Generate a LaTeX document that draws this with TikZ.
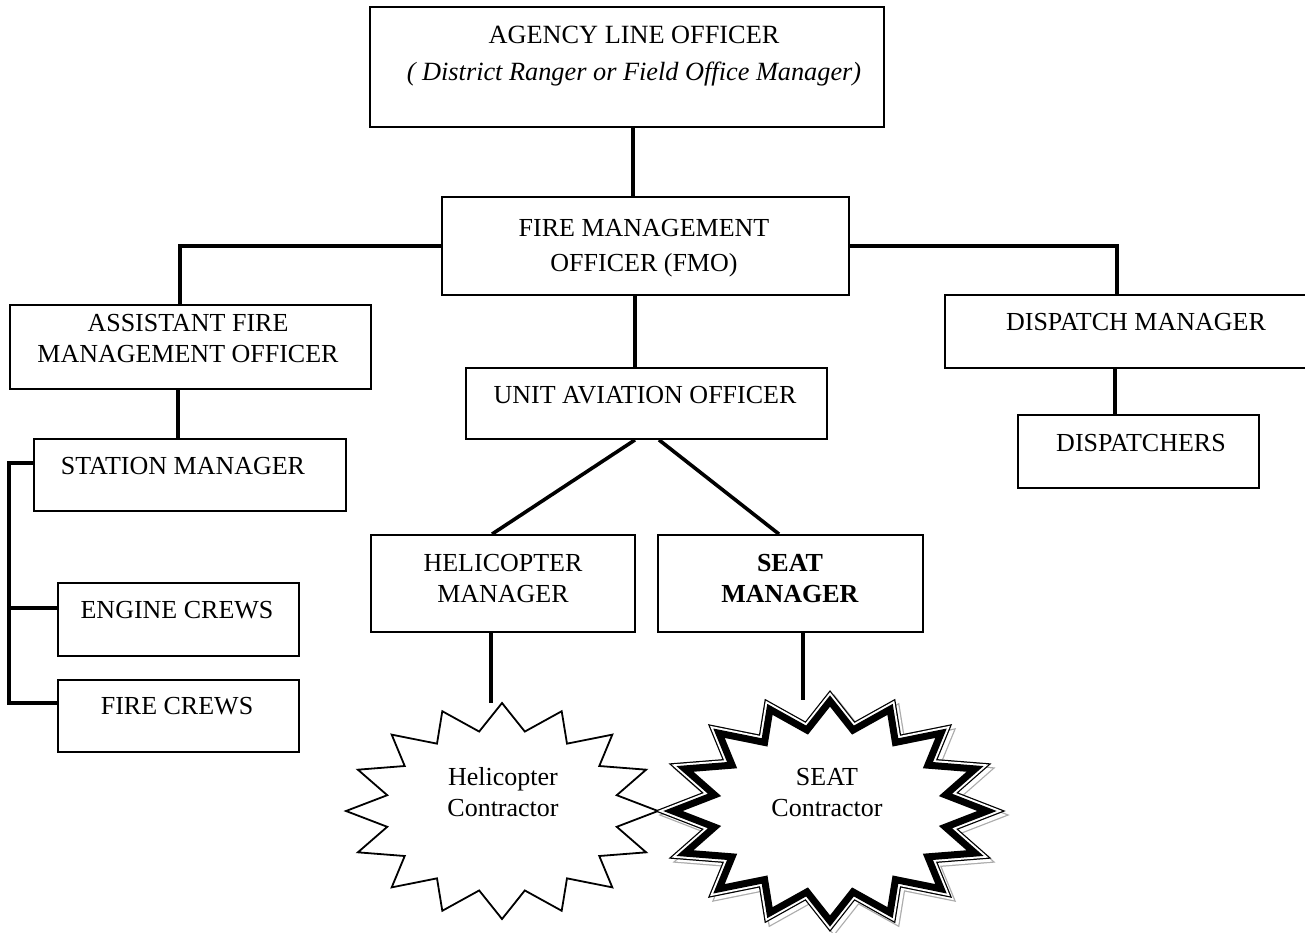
\documentclass[tikz,border=0pt]{standalone}
\usepackage{fontspec}
\setmainfont{Liberation Serif}
\newcommand{\starA}{156}
\newcommand{\starB}{108}
\newcommand{\starplot}{plot[samples at={0,...,31}, variable=\i] ({\starA*(0.875+0.125*cos(180*\i))*cos(90-11.25*\i)}, {-\starB*(0.875+0.125*cos(180*\i))*sin(90-11.25*\i)}) -- cycle}
\begin{document}
\begin{tikzpicture}[x=1pt,y=-1pt,
  box/.style={draw, line width=1.8pt, inner sep=0pt},
  txt/.style={anchor=north, inner sep=0pt, align=center, font=\fontsize{26}{31}\selectfont},
  conn/.style={line width=3.6pt},
  line join=miter
]
\fill[white] (0,0) rectangle (1305,933);
\useasboundingbox (0,0) rectangle (1305,933);
\clip (0,0) rectangle (1305,933);

% boxes
\node[box, minimum width=514pt, minimum height=120pt] (agency) at (627,67) {};
\node[box, minimum width=407pt, minimum height=98pt] (fmo) at (645.5,246) {};
\node[box, minimum width=361pt, minimum height=84pt] (asst) at (190.5,347) {};
\node[box, minimum width=361pt, minimum height=71pt] (uao) at (646.5,403.5) {};
\node[box, minimum width=382pt, minimum height=73pt] (dm) at (1136,331.5) {};
\node[box, minimum width=241pt, minimum height=73pt] (disp) at (1138.5,451.5) {};
\node[box, minimum width=312pt, minimum height=72pt] (station) at (190,475) {};
\node[box, minimum width=241pt, minimum height=73pt] (engine) at (178.5,619.5) {};
\node[box, minimum width=241pt, minimum height=72pt] (fire) at (178.5,716) {};
\node[box, minimum width=264pt, minimum height=97pt] (heli) at (503,583.5) {};
\node[box, minimum width=265pt, minimum height=97pt] (seat) at (790.5,583.5) {};

% texts
\node[txt, font=\fontsize{26.3}{37}\selectfont] (agency-t) at (634,26) {AGENCY LINE OFFICER\\\textit{( District Ranger or Field Office Manager)}};
\node[txt, font=\fontsize{26}{35}\selectfont] (fmo-t) at (644,219) {FIRE MANAGEMENT\\OFFICER (FMO)};
\node[txt] (asst-t) at (188,314) {ASSISTANT FIRE\\MANAGEMENT OFFICER};
\node[txt] (uao-t) at (645,386) {UNIT AVIATION OFFICER};
\node[txt] (dm-t) at (1136,313) {DISPATCH MANAGER};
\node[txt] (disp-t) at (1141,434) {DISPATCHERS};
\node[txt] (station-t) at (183,457) {STATION MANAGER};
\node[txt] (engine-t) at (177,601) {ENGINE CREWS};
\node[txt] (fire-t) at (177,697) {FIRE CREWS};
\node[txt] (heli-t) at (503,554) {HELICOPTER\\MANAGER};
\node[txt] (seat-t) at (790,554) {\textbf{SEAT}\\\textbf{MANAGER}};

% helicopter contractor starburst
\begin{scope}[shift={(502,811)}]
  \draw[line width=1.8pt, fill=white] \starplot;
\end{scope}
\coordinate (hs-top) at (491,703);
\node[txt] (hs-t) at (503,767) {Helicopter\\Contractor};

% SEAT contractor starburst (compound line with shadow)
\renewcommand{\starA}{157}
\renewcommand{\starB}{110}
\begin{scope}[shift={(834,815)}]
  \draw[gray!65, line width=13.5pt] \starplot;
  \draw[white, line width=11pt] \starplot;
\end{scope}
\begin{scope}[shift={(830,811)}]
  \draw[black, line width=13.5pt] \starplot;
  \draw[white, line width=11pt] \starplot;
  \fill[white] \starplot;
  \draw[black, line width=7pt] \starplot;
\end{scope}
\coordinate (ss-top) at (803,700);
\node[txt] (ss-t) at (827,768) {SEAT\\Contractor};

% connectors
\draw[conn] ([xshift=6pt]agency.south) -- ([xshift=6pt]agency.south |- fmo.north);
\draw[conn] (fmo.west) -| ([xshift=-10.5pt]asst.north);
\draw[conn] (fmo.east) -| ([xshift=-19pt]dm.north);
\draw[conn] ([xshift=-10.5pt]fmo.south) -- ([xshift=-10.5pt]fmo.south |- uao.north);
\draw[conn] ([xshift=-11.5pt]uao.south) -- ([xshift=-11pt]heli.north);
\draw[conn] ([xshift=12.5pt]uao.south) -- ([xshift=-11.5pt]seat.north);
\draw[conn] ([xshift=-12.5pt]asst.south) -- ([xshift=-12.5pt]asst.south |- station.north);
\draw[conn] ([xshift=-21pt]dm.south) -- ([xshift=-21pt]dm.south |- disp.north);
\draw[conn] ([yshift=12pt]station.west) -- ++(-24pt,0) |- ([yshift=13pt]fire.west);
\draw[conn] ([yshift=11.5pt]engine.west) -- ++(-48pt,0);
\draw[conn] ([xshift=-12pt]heli.south) -- (hs-top);
\draw[conn] ([xshift=12.5pt]seat.south) -- (ss-top);
\end{tikzpicture}
\end{document}
